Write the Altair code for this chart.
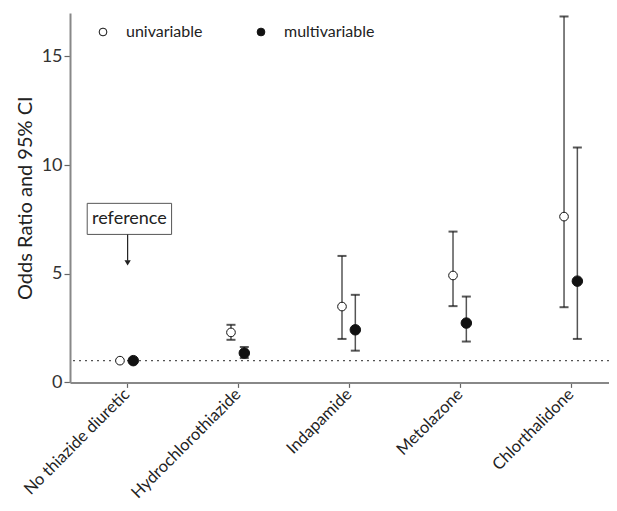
import altair as alt
import pandas as pd

categories = ["No thiazide diuretic", "Hydrochlorothiazide", "Indapamide", "Metolazone", "Chlorthalidone"]
uni_or = [1.0, 2.30, 3.49, 4.92, 7.63]
uni_lo = [None, 1.96, 2.00, 3.51, 3.46]
uni_hi = [None, 2.65, 5.82, 6.94, 16.84]
multi_or = [1.0, 1.35, 2.42, 2.73, 4.66]
multi_lo = [None, 1.12, 1.46, 1.88, 2.00]
multi_hi = [None, 1.63, 4.03, 3.95, 10.81]
y_ticks = [0, 5, 10, 15]
series = ["univariable", "multivariable"]

rows = []
for i, c in enumerate(categories):
    rows.append({"idx": i, "cat": c, "type": series[0], "or": uni_or[i], "lo": uni_lo[i], "hi": uni_hi[i]})
    rows.append({"idx": i, "cat": c, "type": series[1], "or": multi_or[i], "lo": multi_lo[i], "hi": multi_hi[i]})
df = pd.DataFrame(rows)

label_expr = "[" + ",".join("'" + c + "'" for c in categories) + "][datum.value]"
FONT = "Lato"

xscale = alt.Scale(domain=[-0.51, 4.345], nice=False, zero=False)
yscale = alt.Scale(domain=[0, 17], nice=False)

base = alt.Chart(df).transform_calculate(
    xpos="datum.idx + (datum.type == 'univariable' ? -0.06 : 0.06)"
)

xenc = alt.X("xpos:Q", scale=xscale, axis=alt.Axis(
    values=list(range(len(categories))), labelExpr=label_expr, title=None,
    labelAngle=-45, labelAlign="right", labelBaseline="middle", labelFontSize=16.5,
    labelColor="#222", labelPadding=4, tickSize=5, grid=False, labelOverlap=False,
    labelBound=False, labelFlush=False,
    domainColor="#888", domainWidth=2, tickColor="#666", tickWidth=1.2, labelFont=FONT))

yenc = alt.Y("or:Q", scale=yscale, axis=alt.Axis(
    values=y_ticks, title="Odds Ratio and 95% CI", titleFontSize=20, titleFontWeight="normal",
    titleColor="#222", titleFont=FONT, titlePadding=6, labelFontSize=18, labelColor="#333",
    labelFont=FONT, labelPadding=2, tickSize=6, grid=False, domainColor="#888", domainWidth=2,
    tickColor="#666", tickWidth=1.2))

ci = base.transform_filter("datum.lo != null")

lines = ci.mark_rule(color="#555", strokeWidth=1.5).encode(
    x=alt.X("xpos:Q", scale=xscale), y=alt.Y("lo:Q", scale=yscale), y2="hi:Q")
cap_lo = ci.mark_tick(color="#111", thickness=2, size=9, orient="horizontal").encode(
    x=alt.X("xpos:Q", scale=xscale), y=alt.Y("lo:Q", scale=yscale))
cap_hi = ci.mark_tick(color="#111", thickness=2, size=9, orient="horizontal").encode(
    x=alt.X("xpos:Q", scale=xscale), y=alt.Y("hi:Q", scale=yscale))

points = base.mark_point(filled=False, strokeWidth=1, stroke="#111", opacity=1).encode(
    x=xenc, y=yenc,
    fill=alt.Fill("type:N", scale=alt.Scale(domain=series, range=["white", "#111"]),
                  legend=alt.Legend(title=None, orient="none", legendX=25, legendY=11,
                                    direction="horizontal", labelFontSize=16, labelFont=FONT,
                                    labelColor="#222", symbolSize=60, symbolStrokeColor="#111",
                                    symbolStrokeWidth=1, labelOffset=15, columnPadding=50,
                                    symbolType="circle")),
    size=alt.condition("datum.type == 'univariable'", alt.value(75), alt.value(110)),
)

refline = alt.Chart(pd.DataFrame({"v": [1]})).mark_rule(
    color="#555", strokeDash=[2, 4], strokeWidth=1.2).encode(y=alt.Y("v:Q", scale=yscale))

# "reference" annotation
ann = pd.DataFrame({"x0": [-0.355], "x1": [0.405], "y0": [6.81], "y1": [8.24],
                    "tx": [0.025], "ty": [7.52], "ax": [0.009], "ay0": [6.81], "ay1": [5.6], "tip": [5.5],
                    "label": ["reference"]})
box = alt.Chart(ann).mark_rect(fill="white", stroke="#555", strokeWidth=1).encode(
    x=alt.X("x0:Q", scale=xscale), x2="x1:Q", y=alt.Y("y0:Q", scale=yscale), y2="y1:Q")
boxtext = alt.Chart(ann).mark_text(fontSize=18, font=FONT, color="#222").encode(
    x=alt.X("tx:Q", scale=xscale), y=alt.Y("ty:Q", scale=yscale), text="label:N")
arrow = alt.Chart(ann).mark_rule(color="#222", strokeWidth=1.2).encode(
    x=alt.X("ax:Q", scale=xscale), y=alt.Y("ay0:Q", scale=yscale), y2="ay1:Q")
head = alt.Chart(ann).mark_point(shape="triangle-down", filled=True, color="#222", size=40, opacity=1).encode(
    x=alt.X("ax:Q", scale=xscale), y=alt.Y("tip:Q", scale=yscale))

chart = alt.layer(refline, lines, cap_lo, cap_hi, points, box, boxtext, arrow, head).properties(
    width=539, height=369.4,
    autosize=alt.AutoSizeParams(type="none"),
    padding={"left": 62, "top": 5, "right": 0, "bottom": 120},
).configure(font=FONT).configure_view(stroke=None)

chart.save("out.html", embed_options={"renderer": "svg", "actions": False})
